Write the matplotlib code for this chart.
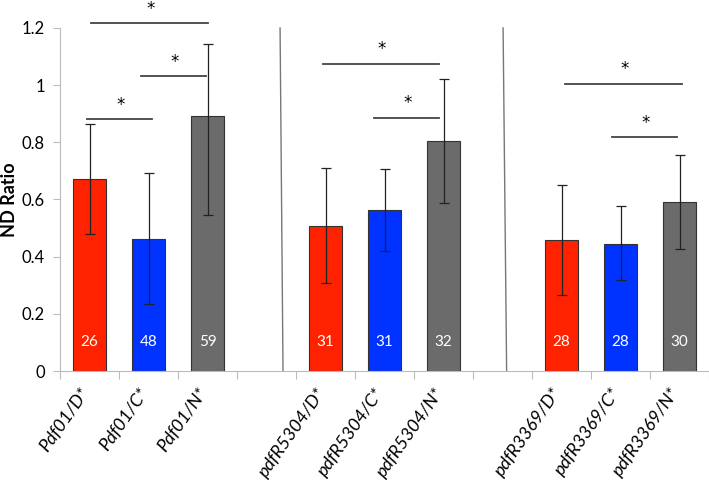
import matplotlib
matplotlib.use("Agg")
import matplotlib.pyplot as plt
import numpy as np

categories = ["Pdf01/D*", "Pdf01/C*", "Pdf01/N*", "",
              "pdfR5304/D*", "pdfR5304/C*", "pdfR5304/N*", "",
              "pdfR3369/D*", "pdfR3369/C*", "pdfR3369/N*"]
values = [0.671, 0.462, 0.892, None, 0.509, 0.563, 0.804, None, 0.458, 0.446, 0.591]
err_low = [0.192, 0.228, 0.345, None, 0.200, 0.142, 0.217, None, 0.191, 0.128, 0.164]
err_high = [0.193, 0.230, 0.251, None, 0.201, 0.143, 0.218, None, 0.191, 0.130, 0.163]
counts = ["26", "48", "59", "", "31", "31", "32", "", "28", "28", "30"]
kinds = ["D", "C", "N", "", "D", "C", "N", "", "D", "C", "N"]
# significance bars: (x_start, x_end, height)
sig_x0 = [-0.04, 0.87, 0.03, 3.95, 4.82, 8.06, 8.86]
sig_x1 = [1.06, 1.97, 2.01, 5.93, 5.92, 10.04, 9.96]
sig_y = [0.882, 1.031, 1.218, 1.075, 0.886, 1.005, 0.818]
separators = [(3.23, 3.28), (7.01, 7.07)]

colors = {"D": "#FF2200", "C": "#0033FF", "N": "#6B6B6B"}

plt.rcParams['font.family'] = ['Lato', 'DejaVu Sans']
fig = plt.figure(figsize=(7.09, 4.83), dpi=100)
ax = fig.add_axes([60/709, 1-371/483, 649/709, (371-28)/483])

x = np.arange(len(categories))
for i, v in enumerate(values):
    if v is None:
        continue
    ax.bar(i, v, width=0.56, color=colors[kinds[i]], edgecolor="#333333", linewidth=0.8, zorder=2)
    ax.errorbar(i, v, yerr=[[err_low[i]], [err_high[i]]], fmt="none", ecolor="#222222",
                elinewidth=0.9, capsize=3.5, capthick=0.9, zorder=3)
    ax.text(i, 0.10, counts[i], color="white", ha="center", va="center", fontsize=11, zorder=4)

for a, b, h in zip(sig_x0, sig_x1, sig_y):
    ax.plot([a, b], [h, h], color="#444444", lw=1.3, clip_on=False, zorder=3)
    ax.text((a + b) / 2 + 0.02, h + 0.05, "*", ha="center", va="center", fontsize=12,
            family="DejaVu Sans", clip_on=False)

for (t, bt) in separators:
    ax.plot([bt, t], [0, 1.2], color="#777777", lw=1.0, clip_on=False, zorder=1)

ax.set_xlim(-0.5, len(categories) - 0.5)
ax.set_ylim(0, 1.2)
ax.set_yticks([0, 0.2, 0.4, 0.6, 0.8, 1.0, 1.2])
ax.set_yticklabels(["0", "0.2", "0.4", "0.6", "0.8", "1", "1.2"], fontsize=12)
ax.set_xticks(np.arange(len(categories) + 1) - 0.5)
ax.set_xticklabels([])
ax.tick_params(axis="x", length=6, color="#BBBBBB", direction="out")
ax.tick_params(axis="y", length=5, color="#BBBBBB", direction="out", pad=6)
for i, lab in enumerate(categories):
    if lab:
        ax.text(i + 0.05, -0.05, lab, rotation=55, ha="right", va="top", fontsize=13,
                style="italic", transform=ax.transData)
for s in ["top", "right"]:
    ax.spines[s].set_visible(False)
ax.spines["left"].set_color("#BBBBBB")
ax.spines["bottom"].set_color("#BBBBBB")
fig.text(10/709, 1-200/483, "ND Ratio", rotation=90, ha="center", va="center",
         fontsize=13, fontweight="bold")

fig.savefig("out.png", dpi=100)
